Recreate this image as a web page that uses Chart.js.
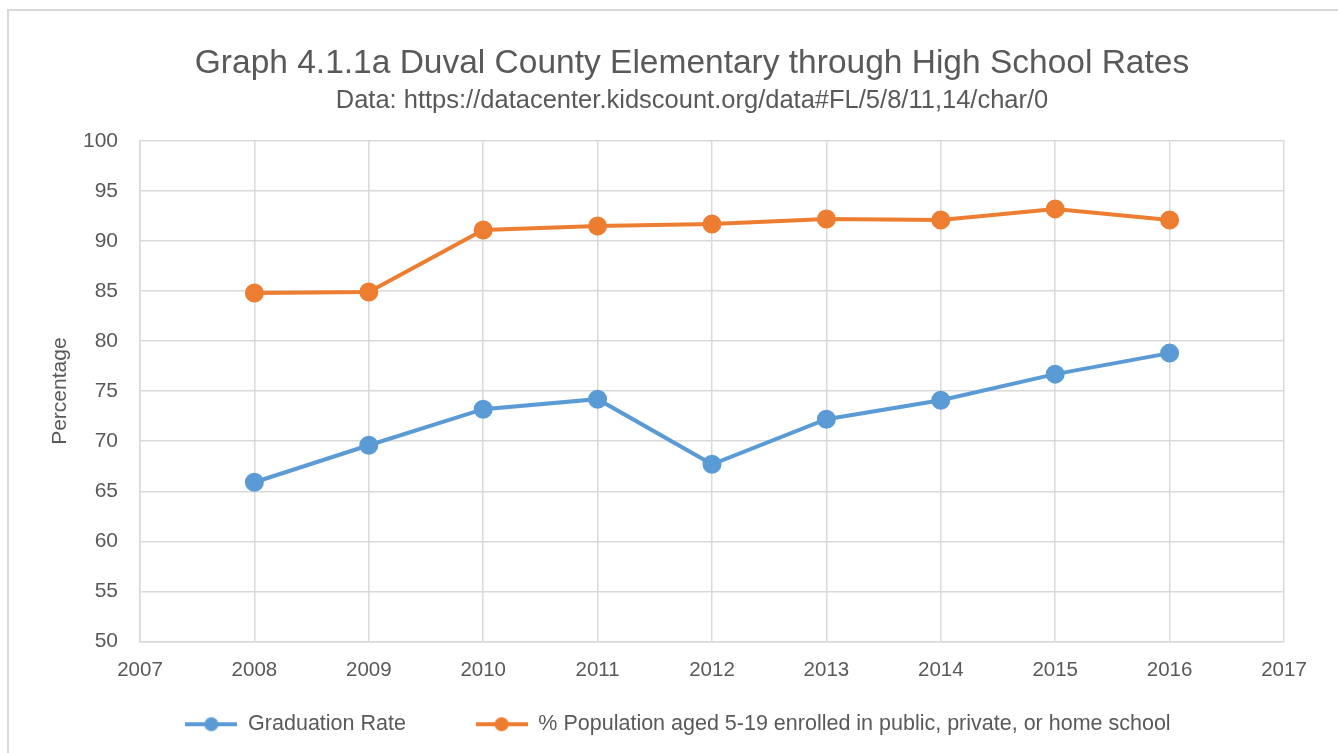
<!DOCTYPE html>
<html>
<head>
<meta charset="utf-8">
<script src="https://cdn.jsdelivr.net/npm/chart.js@4.4.1/dist/chart.umd.min.js"></script>
<style>
  html, body { margin: 0; padding: 0; background: #fff; }
  #wrap { position: relative; width: 1338px; height: 753px; overflow: hidden; }
  #frame { position: absolute; left: 7px; top: 9px; width: 1340px; height: 800px;
           border: 2px solid #d9d9d9; box-sizing: border-box; pointer-events: none; }
  canvas { position: absolute; left: 0; top: 0; }
</style>
</head>
<body>
<div id="wrap">
  <canvas id="myChart" width="1338" height="753"></canvas>
  <div id="frame"></div>
</div>
<script>
const years = [2008, 2009, 2010, 2011, 2012, 2013, 2014, 2015, 2016];
const graduationRate = [65.9, 69.6, 73.2, 74.2, 67.7, 72.2, 74.1, 76.7, 78.8];
const enrolledRate = [84.8, 84.9, 91.1, 91.5, 91.7, 92.2, 92.1, 93.2, 92.1];
const seriesNames = ['Graduation Rate', '% Population aged 5-19 enrolled in public, private, or home school'];
const seriesColors = ['#5B9BD5', '#ED7D31'];

const fuente = '"Liberation Sans", Arial, sans-serif';
const gris = '#595959';

// muestra de leyenda: linea con marcador circular
function muestraLeyenda(color) {
    const c = document.createElement('canvas');
    c.width = 52; c.height = 16;
    const g = c.getContext('2d');
    g.strokeStyle = color;
    g.lineWidth = 4;
    g.beginPath(); g.moveTo(0, 8); g.lineTo(52, 8); g.stroke();
    g.fillStyle = color;
    g.beginPath(); g.arc(26, 8, 7, 0, Math.PI * 2); g.fill();
    return c;
}

function puntos(valores) {
    return years.map((y, i) => ({ x: y, y: valores[i] }));
}

// centra titulo, subtitulo y leyenda sobre el ancho total del marco
const centrarBloques = {
    id: 'centrarBloques',
    afterLayout(chart) {
        chart.boxes.forEach((b) => {
            let d = 0;
            if (b.position === 'top') d = 26;
            else if (b === chart.legend) d = 12;
            b.left += d;
            b.right += d;
        });
    }
};

const ctx = document.getElementById('myChart').getContext('2d');

new Chart(ctx, {
    type: 'line',
    data: {
        datasets: [{
            label: seriesNames[0],
            data: puntos(graduationRate),
            borderColor: seriesColors[0],
            backgroundColor: seriesColors[0],
            borderWidth: 4,
            pointRadius: 7.5,
            pointHoverRadius: 7.5,
            tension: 0
        }, {
            label: seriesNames[1],
            data: puntos(enrolledRate),
            borderColor: seriesColors[1],
            backgroundColor: seriesColors[1],
            borderWidth: 4,
            pointRadius: 7.5,
            pointHoverRadius: 7.5,
            tension: 0
        }]
    },
    plugins: [centrarBloques],
    options: {
        responsive: false,
        animation: false,
        devicePixelRatio: 1,
        layout: { padding: { left: 48, right: 54, top: 38, bottom: 8 } },
        plugins: {
            title: {
                display: true,
                text: 'Graph 4.1.1a Duval County Elementary through High School Rates',
                color: gris,
                font: { family: fuente, size: 33.5, weight: 'normal' },
                padding: { top: 6, bottom: 1 }
            },
            subtitle: {
                display: true,
                text: 'Data: https://datacenter.kidscount.org/data#FL/5/8/11,14/char/0',
                color: gris,
                font: { family: fuente, size: 25.5, weight: 'normal' },
                padding: { top: 0, bottom: 25 }
            },
            legend: {
                display: true,
                position: 'bottom',
                labels: {
                    color: gris,
                    font: { family: fuente, size: 21.5 },
                    usePointStyle: true,
                    pointStyleWidth: 52,
                    boxHeight: 16,
                    padding: 10,
                    // el primer texto lleva espacios al final para separar las dos entradas
                    generateLabels: (chart) => chart.data.datasets.map((ds, i) => ({
                        text: i === 0 ? ds.label + '          ' : ds.label,
                        fontColor: gris,
                        pointStyle: muestraLeyenda(seriesColors[i]),
                        datasetIndex: i,
                        hidden: false,
                        lineWidth: 0,
                        strokeStyle: 'transparent',
                        fillStyle: seriesColors[i]
                    }))
                }
            },
            tooltip: { enabled: false }
        },
        scales: {
            x: {
                type: 'linear',
                min: 2007,
                max: 2017,
                afterFit: (scale) => { scale.height = 62; },
                ticks: {
                    stepSize: 1,
                    color: gris,
                    padding: 17,
                    font: { family: fuente, size: 20.5 },
                    callback: (v) => String(v)
                },
                grid: { color: '#d9d9d9', lineWidth: 1.5, drawTicks: false },
                border: { color: '#d9d9d9', width: 1.5 }
            },
            y: {
                min: 50,
                max: 100,
                afterFit: (scale) => { scale.width = 92; },
                ticks: {
                    stepSize: 5,
                    color: gris,
                    padding: 22,
                    font: { family: fuente, size: 21 }
                },
                title: {
                    display: true,
                    text: 'Percentage',
                    color: gris,
                    font: { family: fuente, size: 21 },
                    padding: { top: 0, bottom: 0 }
                },
                grid: { color: '#d9d9d9', lineWidth: 1.5, drawTicks: false },
                border: { color: '#d9d9d9', width: 1.5 }
            }
        }
    }
});
</script>
</body>
</html>
